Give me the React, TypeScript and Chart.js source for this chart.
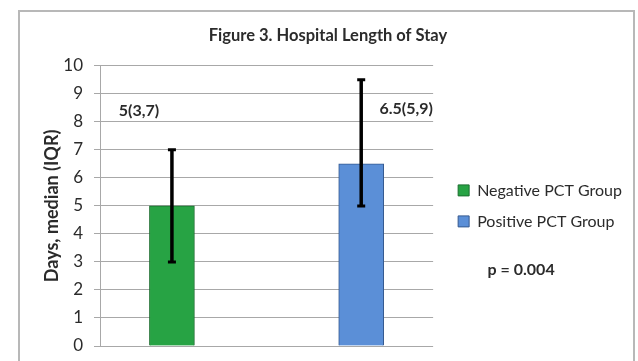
import React, { useEffect, useRef } from "react";
import { Chart, registerables } from "chart.js";

Chart.register(...registerables);

// ---- data ----
const groups = ["Negative PCT Group", "Positive PCT Group"];
const groupPositions = [0, 1];
const medians = [5, 6.5];
const whiskerLow = [3, 5];
const whiskerHigh = [7, 9.5];
const valueLabels = ["5(3,7)", "6.5(5,9)"];
const valueLabelLevel = [8.4, 8.45];
const yMin = 0;
const yMax = 10;
const yStep = 1;
const titleText = "Figure 3. Hospital Length of Stay";
const yAxisTitle = "Days, median (IQR)";
const pValueText = "p = 0.004";

// ---- styles ----
const FONT = "Lato, 'Open Sans', sans-serif";
const fillColors = ["#27a344", "#5b8fd7"];
const borderColors = ["#1b6e2f", "#35598f"];
const gridColor = "#a8a8a8";
const textColor = "#2b2b2b";

const frameAndBackground = {
  id: "frameAndBackground",
  beforeDraw(chart: any) {
    const { ctx, width, height } = chart;
    ctx.save();
    ctx.fillStyle = "#ffffff";
    ctx.fillRect(0, 0, width, height);
    ctx.strokeStyle = "#b8b8b8";
    ctx.lineWidth = 2;
    ctx.strokeRect(19, 11, width - 4 - 19, height + 20);
    ctx.restore();
  },
};

const errorBars = {
  id: "errorBars",
  afterDatasetsDraw(chart: any) {
    const { ctx } = chart;
    const y = chart.scales.y;
    const bars = chart.getDatasetMeta(0).data;
    bars.forEach((bar: any, i: number) => {
      const x = bar.x;
      const yLo = y.getPixelForValue(whiskerLow[i]);
      const yHi = y.getPixelForValue(whiskerHigh[i]);
      ctx.save();
      ctx.strokeStyle = "#000000";
      ctx.lineCap = "butt";
      ctx.lineWidth = 3.5;
      ctx.beginPath();
      ctx.moveTo(x, yLo);
      ctx.lineTo(x, yHi);
      ctx.stroke();
      ctx.lineWidth = 3;
      ctx.beginPath();
      ctx.moveTo(x - 4, yHi);
      ctx.lineTo(x + 4, yHi);
      ctx.moveTo(x - 4, yLo);
      ctx.lineTo(x + 4, yLo);
      ctx.stroke();
      ctx.restore();
    });
  },
};

const annotations = {
  id: "annotations",
  afterDraw(chart: any) {
    const { ctx, chartArea } = chart;
    const y = chart.scales.y;
    const offsets = [-33, 45];
    ctx.save();
    ctx.fillStyle = textColor;
    ctx.font = `bold 16px ${FONT}`;
    ctx.textAlign = "center";
    ctx.textBaseline = "middle";
    chart.getDatasetMeta(0).data.forEach((bar: any, i: number) => {
      ctx.fillText(valueLabels[i], bar.x + offsets[i], y.getPixelForValue(valueLabelLevel[i]));
    });
    ctx.fillText(pValueText, chartArea.right + 88, 270);
    ctx.restore();
  },
};

export default function App() {
  const ref = useRef<HTMLCanvasElement>(null);

  useEffect(() => {
    if (!ref.current) return;
    const chart = new Chart(ref.current, {
      type: "bar",
      data: {
        datasets: [
          {
            label: "Length of stay",
            data: groupPositions.map((x, i) => ({ x, y: medians[i] })),
            backgroundColor: fillColors,
            borderColor: borderColors,
            borderWidth: 1,
            barThickness: 45,
          },
        ],
      },
      options: {
        responsive: false,
        animation: false,
        events: [],
        layout: { padding: { top: 12, left: 24, right: 6, bottom: 15 } },
        plugins: {
          tooltip: { enabled: false },
          title: {
            display: true,
            text: titleText,
            color: textColor,
            font: { family: FONT, size: 16.5, weight: "bold", lineHeight: 1.2 },
            padding: { top: 14, bottom: 20 },
          },
          legend: {
            display: true,
            position: "right",
            fullSize: false,
            align: "center",
            maxWidth: 400,
            labels: {
              color: textColor,
              boxWidth: 11,
              boxHeight: 11,
              padding: 15,
              font: { family: FONT, size: 16, lineHeight: 1 },
              generateLabels: () =>
                groups.map((g, i) => ({
                  text: g,
                  fillStyle: fillColors[i],
                  strokeStyle: borderColors[i],
                  lineWidth: 1,
                  fontColor: textColor,
                  hidden: false,
                  datasetIndex: 0,
                  index: i,
                })),
            },
          },
        },
        scales: {
          x: {
            type: "linear",
            min: -0.38,
            max: 1.38,
            offset: false,
            display: false,
          },
          y: {
            type: "linear",
            position: "left",
            min: yMin,
            max: yMax,
            ticks: {
              stepSize: yStep,
              color: textColor,
              padding: 11,
              font: { family: FONT, size: 17 },
            },
            grid: { color: gridColor, lineWidth: 1, tickLength: 6, drawTicks: true },
            border: { color: gridColor, width: 1 },
            title: {
              display: true,
              text: yAxisTitle,
              color: textColor,
              font: { family: FONT, size: 18, weight: "bold", lineHeight: 1.2 },
              padding: { top: 17, bottom: 0 },
            },
            afterFit: (scale: any) => {
              scale.width = 76;
              scale.paddingTop = 0;
              scale.paddingBottom = 0;
            },
          },
          spacer: {
            type: "linear",
            position: "right",
            display: true,
            grid: { display: false, drawTicks: false },
            ticks: { display: false },
            border: { display: false },
            afterFit: (scale: any) => {
              scale.width = 10;
              scale.paddingTop = 0;
              scale.paddingBottom = 0;
            },
          },
        },
      } as any,
      plugins: [frameAndBackground, errorBars, annotations],
    });
    return () => chart.destroy();
  }, []);

  return (
    <div style={{ position: "fixed", left: 0, top: 0, width: 638, height: 361, background: "#fff" }}>
      <canvas ref={ref} width={638} height={361} style={{ display: "block", width: 638, height: 361 }} />
    </div>
  );
}
